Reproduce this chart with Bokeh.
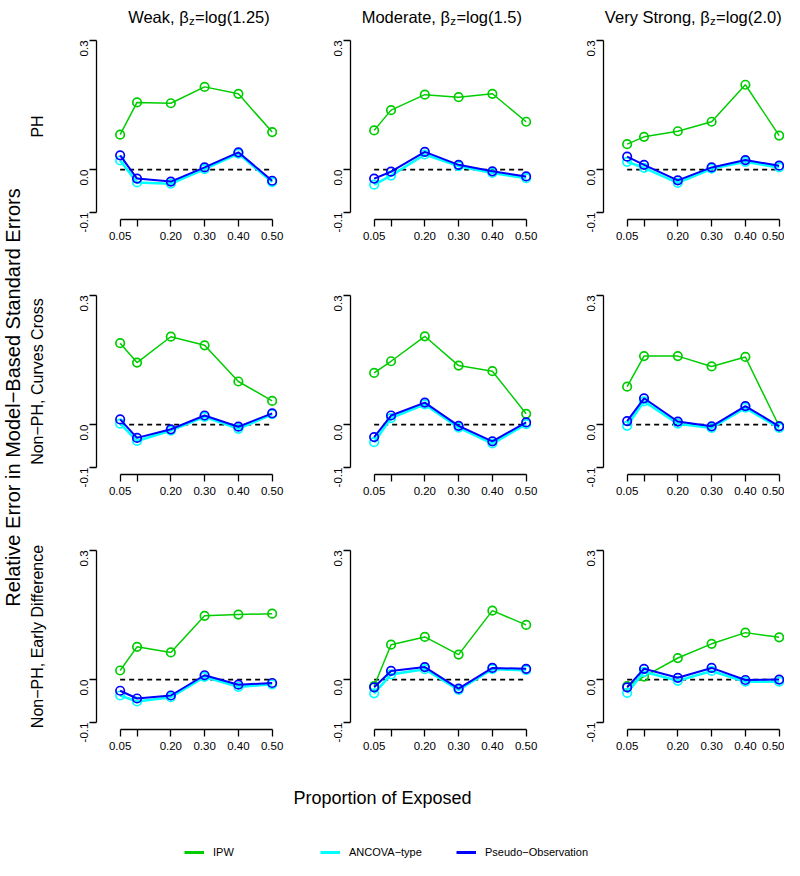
import math
from bokeh.plotting import figure
from bokeh.models import Range1d, FixedTicker, Legend, LegendItem, PrintfTickFormatter
from bokeh.layouts import column, row
from bokeh.embed import file_html
from bokeh.resources import INLINE
from bokeh.core.properties import value

FONT = "Liberation Sans"

# ---------------- data ----------------
proportions = [0.05, 0.10, 0.20, 0.30, 0.40, 0.50]
x_tick_labels = ["0.05", "", "0.20", "0.30", "0.40", "0.50"]
y_ticks = [-0.1, 0.0, 0.3]

col_strength = ["Weak", "Moderate", "Very Strong"]
col_beta = ["log(1.25)", "log(1.5)", "log(2.0)"]
row_scenarios = ["PH", "Non\u2212PH, Curves Cross", "Non\u2212PH, Early Difference"]
series_names = ["IPW", "ANCOVA\u2212type", "Pseudo\u2212Observation"]
series_colors = ["#00CD00", "#00FFFF", "#0000FF"]

# PH
ipw_ph_weak = [0.081, 0.156, 0.154, 0.192, 0.176, 0.087]
anc_ph_weak = [0.021, -0.030, -0.033, 0.001, 0.037, -0.029]
pse_ph_weak = [0.033, -0.021, -0.028, 0.005, 0.040, -0.026]

ipw_ph_mod = [0.091, 0.138, 0.174, 0.168, 0.176, 0.111]
anc_ph_mod = [-0.035, -0.014, 0.035, 0.008, -0.008, -0.020]
pse_ph_mod = [-0.021, -0.005, 0.041, 0.011, -0.004, -0.016]

ipw_ph_vs = [0.059, 0.076, 0.089, 0.111, 0.197, 0.079]
anc_ph_vs = [0.018, 0.004, -0.031, 0.002, 0.018, 0.005]
pse_ph_vs = [0.030, 0.011, -0.025, 0.005, 0.022, 0.009]

# Non-PH, curves cross
ipw_cc_weak = [0.189, 0.144, 0.204, 0.184, 0.100, 0.055]
anc_cc_weak = [0.002, -0.038, -0.014, 0.018, -0.010, 0.024]
pse_cc_weak = [0.012, -0.031, -0.011, 0.021, -0.005, 0.026]

ipw_cc_mod = [0.120, 0.147, 0.205, 0.137, 0.124, 0.025]
anc_cc_mod = [-0.041, 0.015, 0.047, -0.007, -0.044, 0.001]
pse_cc_mod = [-0.029, 0.021, 0.051, -0.003, -0.039, 0.005]

ipw_cc_vs = [0.088, 0.159, 0.159, 0.135, 0.157, -0.004]
anc_cc_vs = [-0.003, 0.054, 0.002, -0.008, 0.039, -0.008]
pse_cc_vs = [0.008, 0.061, 0.007, -0.004, 0.043, -0.004]

# Non-PH, early difference
ipw_ed_weak = [0.021, 0.076, 0.063, 0.148, 0.151, 0.153]
anc_ed_weak = [-0.037, -0.051, -0.041, 0.006, -0.017, -0.011]
pse_ed_weak = [-0.026, -0.044, -0.037, 0.010, -0.012, -0.008]

ipw_ed_mod = [-0.015, 0.081, 0.099, 0.058, 0.160, 0.127]
anc_ed_mod = [-0.032, 0.012, 0.024, -0.024, 0.024, 0.022]
pse_ed_mod = [-0.018, 0.020, 0.029, -0.021, 0.027, 0.025]

ipw_ed_vs = [-0.015, 0.007, 0.050, 0.083, 0.109, 0.098]
anc_ed_vs = [-0.031, 0.018, -0.003, 0.020, -0.005, -0.005]
pse_ed_vs = [-0.018, 0.025, 0.004, 0.027, -0.001, 0.000]

panels = [
    [(ipw_ph_weak, anc_ph_weak, pse_ph_weak), (ipw_ph_mod, anc_ph_mod, pse_ph_mod), (ipw_ph_vs, anc_ph_vs, pse_ph_vs)],
    [(ipw_cc_weak, anc_cc_weak, pse_cc_weak), (ipw_cc_mod, anc_cc_mod, pse_cc_mod), (ipw_cc_vs, anc_cc_vs, pse_cc_vs)],
    [(ipw_ed_weak, anc_ed_weak, pse_ed_weak), (ipw_ed_mod, anc_ed_mod, pse_ed_mod), (ipw_ed_vs, anc_ed_vs, pse_ed_vs)],
]

# ---------------- layout constants ----------------
TOTAL_W = 784
TITLE_H = 33
LEFT_W = 60
FRAME_W = 181
FRAME_H = 186
ROW_H = [255, 255, 223]
COL_W = [240, 253, 231]
COL_BL = [36, 50, 50]
X0, X1 = -0.02, 0.5158
Y0, Y1 = -0.116, 0.316
BOTTOM_H = 94

line_widths = [1.5, 2.6, 2.0]


def style_axis(ax):
    ax.axis_line_color = "black"
    ax.axis_line_width = 1.3
    ax.major_tick_line_color = "black"
    ax.major_tick_line_width = 1.3
    ax.major_tick_in = 0
    ax.major_tick_out = 7
    ax.minor_tick_in = 0
    ax.minor_tick_out = 0
    ax.major_label_text_font = FONT
    ax.major_label_text_font_size = "11.5px"
    ax.major_label_text_color = "black"


def make_panel(r, c):
    w = COL_W[c]
    h = ROW_H[r]
    bl = COL_BL[c]
    p = figure(width=w, height=h, x_range=Range1d(X0, X1), y_range=Range1d(Y0, Y1),
               output_backend="svg", toolbar_location=None,
               min_border_left=bl, min_border_right=w - bl - FRAME_W, min_border_top=0,
               min_border_bottom=h - FRAME_H, outline_line_color=None)
    p.grid.visible = False
    xa = p.xaxis[0]
    style_axis(xa)
    xa.ticker = FixedTicker(ticks=proportions)
    xa.major_label_overrides = {t: l for t, l in zip(proportions, x_tick_labels)}
    xa.bounds = (proportions[0], proportions[-1])
    ya = p.yaxis[0]
    style_axis(ya)
    ya.ticker = FixedTicker(ticks=y_ticks)
    ya.formatter = PrintfTickFormatter(format="%.1f")
    ya.bounds = (y_ticks[0], y_ticks[-1])
    ya.major_label_orientation = math.pi / 2

    p.line(x=[proportions[0], proportions[-1]], y=[0, 0], line_color="black",
           line_width=1.8, line_dash="5 4")
    for vals, col, lw in zip(panels[r][c], series_colors, line_widths):
        p.line(x=proportions, y=vals, line_color=col, line_width=lw)
        p.scatter(x=proportions, y=vals, marker="circle", size=8.5, fill_color=None,
                  line_color=col, line_width=1.7)
    return p


def blank(w, h):
    f = figure(width=w, height=h, x_range=Range1d(0, w), y_range=Range1d(0, h),
               x_axis_type=None, y_axis_type=None, output_backend="svg",
               toolbar_location=None, min_border=0, outline_line_color=None)
    f.grid.visible = False
    return f


# Arial / Liberation Sans advance widths (1/1000 em)
AW = {" ": 278, ",": 278, "(": 333, ")": 333, ".": 278, "=": 584, "0": 556, "1": 556,
      "2": 556, "5": 556, "W": 944, "M": 833, "V": 667, "S": 667, "a": 556, "d": 556,
      "e": 556, "g": 556, "k": 500, "l": 222, "n": 556, "o": 556, "r": 333, "t": 278,
      "y": 500, "z": 500, "\u03b2": 576}


def tw(s, size):
    return sum(AW.get(ch, 556) for ch in s) * size / 1000.0


# ---------------- title strip ----------------
title_fig = blank(TOTAL_W, TITLE_H)
TS, SS = 16.5, 11.5
title_centers = [198, 441, 692]
for cx, strength, beta in zip(title_centers, col_strength, col_beta):
    p1 = f"{strength}, \u03b2"
    p3 = f"={beta}"
    total = tw(p1, TS) + tw("z", SS) + tw(p3, TS)
    anchor = cx - total / 2 + tw(p1, TS)
    base = TITLE_H - 16.5
    title_fig.text(x=[anchor], y=[base], text=[p1], text_align="right", text_baseline="alphabetic",
                   text_font=value(FONT), text_font_size=f"{TS}px", text_color="black")
    title_fig.text(x=[anchor + 0.3], y=[base - 4], text=["z"], text_align="left",
                   text_baseline="alphabetic", text_font=value(FONT),
                   text_font_size=f"{SS}px", text_color="black")
    title_fig.text(x=[anchor + tw("z", SS) + 0.6], y=[base], text=[p3], text_align="left",
                   text_baseline="alphabetic", text_font=value(FONT),
                   text_font_size=f"{TS}px", text_color="black")

# ---------------- left strip ----------------
GRID_H = sum(ROW_H)
left_fig = blank(LEFT_W, GRID_H)
left_fig.text(x=[12], y=[GRID_H - 364], text=["Relative Error in Model\u2212Based Standard Errors"],
              angle=math.pi / 2, text_align="center", text_baseline="middle",
              text_font=value(FONT), text_font_size="20px", text_color="black")
top_acc = 0
for r, lab in enumerate(row_scenarios):
    cy = top_acc + FRAME_H / 2
    left_fig.text(x=[37], y=[GRID_H - cy], text=[lab], angle=math.pi / 2,
                  text_align="center", text_baseline="middle", text_font=value(FONT),
                  text_font_size="16px", text_color="black")
    top_acc += ROW_H[r]

# ---------------- panels ----------------
grid_rows = []
for r in range(3):
    grid_rows.append(row([make_panel(r, c) for c in range(3)], spacing=0))
grid = column(grid_rows, spacing=0)
middle = row([left_fig, grid], spacing=0)

# ---------------- bottom strip ----------------
bottom_fig = blank(TOTAL_W, BOTTOM_H)
bottom_fig.text(x=[382], y=[BOTTOM_H - 31], text=["Proportion of Exposed"], text_align="center",
                text_baseline="middle", text_font=value(FONT), text_font_size="18px",
                text_color="black")
items = []
nan = float("nan")
for name, col in zip(series_names, series_colors):
    rr = bottom_fig.line(x=[nan, nan], y=[nan, nan], line_color=col, line_width=3)
    items.append(LegendItem(label=value(name), renderers=[rr]))
legend = Legend(items=items, orientation="horizontal", location=(184, 2),
                glyph_width=20, glyph_height=12, label_height=12, label_width=107,
                label_standoff=9, spacing=0, padding=0, margin=0,
                border_line_color=None, background_fill_alpha=0,
                label_text_font=FONT, label_text_font_size="11px",
                label_text_color="black")
bottom_fig.add_layout(legend)

layout = column([title_fig, middle, bottom_fig], spacing=0)

with open("out.html", "w") as fh:
    fh.write(file_html(layout, INLINE))
